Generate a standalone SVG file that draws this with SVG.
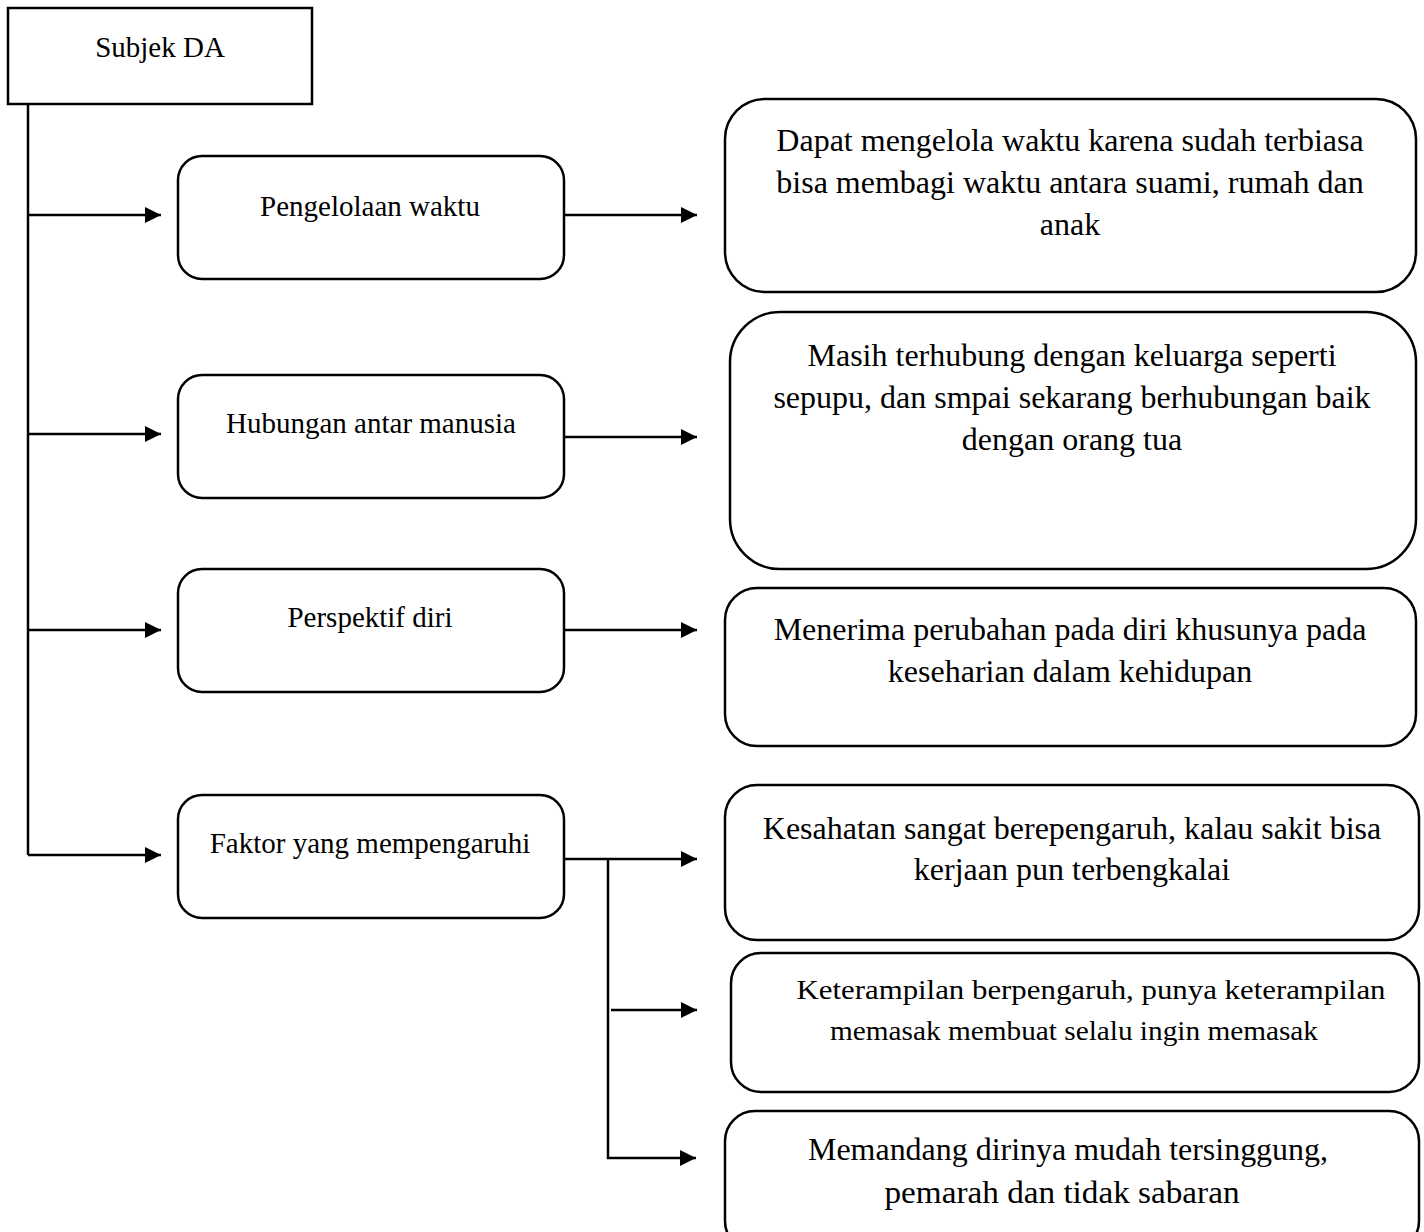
<svg xmlns="http://www.w3.org/2000/svg" width="1424" height="1232" viewBox="0 0 1424 1232">
<style>
.box{fill:#fff;stroke:#000;stroke-width:2.5}
.ln{fill:none;stroke:#000;stroke-width:2.5}
.t{font-family:"Liberation Serif","Times New Roman",serif;fill:#000;text-anchor:middle}
.s{font-size:29px}
.b{font-size:32px}
</style>
<defs>
<marker id="ah" markerUnits="userSpaceOnUse" markerWidth="16" markerHeight="16" refX="16" refY="8" orient="auto">
<path d="M0,0 L16,8 L0,16 Z" fill="#000"/>
</marker>
</defs>
<rect width="1424" height="1232" fill="#fff"/>
<g id="connectors">
<path class="ln" d="M28,104 V855"/>
<path class="ln" d="M28,215 H161" marker-end="url(#ah)"/>
<path class="ln" d="M28,434 H161" marker-end="url(#ah)"/>
<path class="ln" d="M28,630 H161" marker-end="url(#ah)"/>
<path class="ln" d="M28,855 H161" marker-end="url(#ah)"/>
<path class="ln" d="M564,215 H697" marker-end="url(#ah)"/>
<path class="ln" d="M564,437 H697" marker-end="url(#ah)"/>
<path class="ln" d="M564,630 H697" marker-end="url(#ah)"/>
<path class="ln" d="M564,859 H697" marker-end="url(#ah)"/>
<path class="ln" d="M608,859 V1158 H696" marker-end="url(#ah)"/>
<path class="ln" d="M611,1010 H697" marker-end="url(#ah)"/>
</g>
<g id="n-subjek">
<rect class="box" x="8" y="8" width="304" height="96"/>
<text class="t s" x="160" y="57">Subjek DA</text>
</g>
<g id="n-pengelolaan">
<rect class="box" x="178" y="156" width="386" height="123" rx="24"/>
<text class="t s" x="370" y="216">Pengelolaan waktu</text>
</g>
<g id="n-hubungan">
<rect class="box" x="178" y="375" width="386" height="123" rx="24"/>
<text class="t s" x="371" y="433">Hubungan antar manusia</text>
</g>
<g id="n-perspektif">
<rect class="box" x="178" y="569" width="386" height="123" rx="24"/>
<text class="t s" x="370" y="627">Perspektif diri</text>
</g>
<g id="n-faktor">
<rect class="box" x="178" y="795" width="386" height="123" rx="24"/>
<text class="t s" x="370" y="853">Faktor yang mempengaruhi</text>
</g>
<g id="r-waktu">
<rect class="box" x="725" y="99" width="691" height="193" rx="40"/>
<text class="t b" x="1070" y="151">Dapat mengelola waktu karena sudah terbiasa</text>
<text class="t b" x="1070" y="193">bisa membagi waktu antara suami, rumah dan</text>
<text class="t b" x="1070" y="235">anak</text>
</g>
<g id="r-hubungan">
<rect class="box" x="730" y="312" width="686" height="257" rx="50"/>
<text class="t b" x="1072" y="366">Masih terhubung dengan keluarga seperti</text>
<text class="t b" x="1072" y="408">sepupu, dan smpai sekarang berhubungan baik</text>
<text class="t b" x="1072" y="450">dengan orang tua</text>
</g>
<g id="r-perspektif">
<rect class="box" x="725" y="588" width="691" height="158" rx="32"/>
<text class="t b" x="1070" y="640">Menerima perubahan pada diri khusunya pada</text>
<text class="t b" x="1070" y="682">keseharian dalam kehidupan</text>
</g>
<g id="r-kesehatan">
<rect class="box" x="725" y="785" width="694" height="155" rx="32"/>
<text class="t b" x="1072" y="839">Kesahatan sangat berepengaruh, kalau sakit bisa</text>
<text class="t b" x="1072" y="880">kerjaan pun terbengkalai</text>
</g>
<g id="r-keterampilan">
<rect class="box" x="731" y="953" width="688" height="139" rx="30"/>
<text class="t" font-size="28" x="1091" y="999" textLength="589" lengthAdjust="spacingAndGlyphs">Keterampilan berpengaruh, punya keterampilan</text>
<text class="t" font-size="28" x="1074" y="1040" textLength="488" lengthAdjust="spacingAndGlyphs">memasak membuat selalu ingin memasak</text>
</g>
<g id="r-memandang">
<rect class="box" x="725" y="1111" width="694" height="140" rx="30"/>
<text class="t" font-size="32" x="1068" y="1160" textLength="520" lengthAdjust="spacingAndGlyphs">Memandang dirinya mudah tersinggung,</text>
<text class="t" font-size="32" x="1062" y="1203" textLength="355" lengthAdjust="spacingAndGlyphs">pemarah dan tidak sabaran</text>
</g>
</svg>
